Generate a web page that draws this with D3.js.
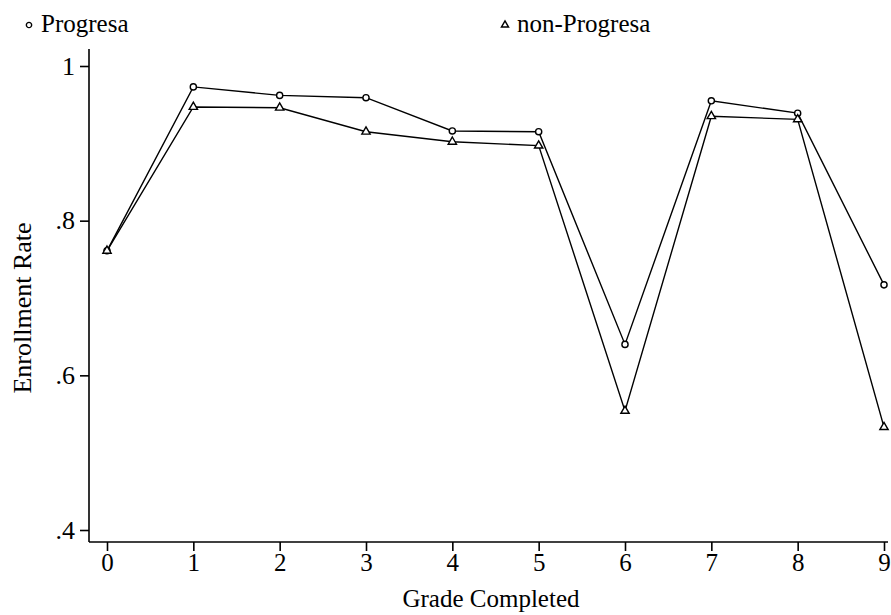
<!DOCTYPE html>
<html>
<head>
<meta charset="utf-8">
<script src="https://cdn.jsdelivr.net/npm/d3@7"></script>
<style>
  body { margin: 0; background: #fff; }
  text { font-family: "Liberation Serif", "DejaVu Serif", serif; fill: #000; }
</style>
</head>
<body>
<svg id="chart"></svg>
<script>
var grades = [0, 1, 2, 3, 4, 5, 6, 7, 8, 9];
var progresa = [0.761, 0.973, 0.962, 0.959, 0.916, 0.915, 0.640, 0.955, 0.939, 0.717];
var nonProgresa = [0.761, 0.947, 0.946, 0.915, 0.902, 0.897, 0.554, 0.935, 0.931, 0.533];
var yTicks = [0.4, 0.6, 0.8, 1];
var yTickLabels = ['.4', '.6', '.8', '1'];

var width = 891;
var height = 615;

var xs = d3.scaleLinear().domain([0, 9]).range([107, 884]);
var ys = d3.scaleLinear().domain([0.4, 1]).range([530, 66]);

var svg = d3.select('#chart')
    .attr('width', width)
    .attr('height', height);

// axes lines
svg.append('line')
    .attr('x1', 89).attr('x2', 89)
    .attr('y1', 49).attr('y2', 542)
    .attr('stroke', '#000').attr('stroke-width', 1.6);

svg.append('line')
    .attr('x1', 89).attr('x2', 888)
    .attr('y1', 542).attr('y2', 542)
    .attr('stroke', '#000').attr('stroke-width', 1.6);

var yAxis = d3.axisLeft(ys)
    .tickValues(yTicks)
    .tickFormat(function (d, i) { return yTickLabels[i]; })
    .tickSize(9)
    .tickPadding(5);

var gy = svg.append('g')
    .attr('transform', 'translate(89,0)')
    .call(yAxis);
gy.select('.domain').remove();
gy.selectAll('line').attr('stroke-width', 1.6);
gy.selectAll('text')
    .style('font-family', '"Liberation Serif", serif')
    .style('font-size', '26px');

var xAxis = d3.axisBottom(xs)
    .tickValues(grades)
    .tickFormat(d3.format('d'))
    .tickSize(9)
    .tickPadding(2);

var gx = svg.append('g')
    .attr('transform', 'translate(0,542)')
    .call(xAxis);
gx.select('.domain').remove();
gx.selectAll('line').attr('stroke-width', 1.6);
gx.selectAll('text')
    .style('font-family', '"Liberation Serif", serif')
    .style('font-size', '25px');

// axis titles
svg.append('text')
    .attr('text-anchor', 'middle')
    .attr('transform', 'translate(31,308) rotate(-90)')
    .style('font-size', '26px')
    .text('Enrollment Rate');

svg.append('text')
    .attr('text-anchor', 'middle')
    .attr('x', 491)
    .attr('y', 607)
    .style('font-size', '25px')
    .text('Grade Completed');

// series
var line = d3.line()
    .x(function (d, i) { return xs(grades[i]); })
    .y(function (d) { return ys(d); });

var series = [
    { name: 'Progresa', values: progresa, shape: d3.symbolCircle },
    { name: 'non-Progresa', values: nonProgresa, shape: d3.symbolTriangle }
];

series.forEach(function (s) {
    svg.append('path')
        .datum(s.values)
        .attr('d', line)
        .attr('fill', 'none')
        .attr('stroke', '#000')
        .attr('stroke-width', 1.4);

    svg.append('g').selectAll('path')
        .data(s.values)
        .enter()
        .append('path')
        .attr('d', d3.symbol().type(s.shape).size(30))
        .attr('transform', function (d, i) {
            return 'translate(' + xs(grades[i]) + ',' + ys(d) + ')';
        })
        .attr('fill', '#fff')
        .attr('stroke', '#000')
        .attr('stroke-width', 1.4);
});

// legend
var legendX = [29, 505];
series.forEach(function (s, i) {
    svg.append('path')
        .attr('d', d3.symbol().type(s.shape).size(22))
        .attr('transform', 'translate(' + legendX[i] + ',25)')
        .attr('fill', '#fff')
        .attr('stroke', '#000')
        .attr('stroke-width', 1.4);
    svg.append('text')
        .attr('x', legendX[i] + 12)
        .attr('y', 32)
        .style('font-size', '25px')
        .text(s.name);
});
</script>
</body>
</html>
